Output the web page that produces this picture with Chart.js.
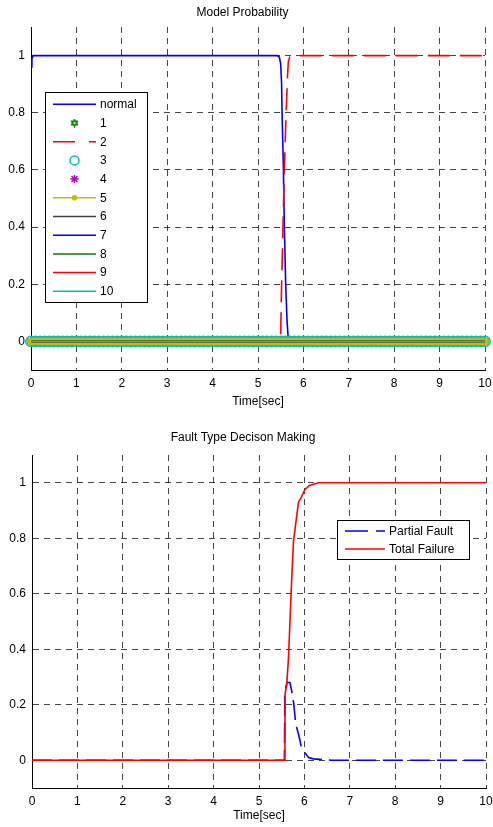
<!DOCTYPE html>
<html>
<head>
<meta charset="utf-8">
<script src="https://cdn.jsdelivr.net/npm/chart.js@4/dist/chart.umd.min.js"></script>
<style>
  html, body { margin: 0; padding: 0; background: #ffffff; }
  body { width: 493px; height: 827px; position: relative; overflow: hidden; }
  canvas { position: absolute; left: 0; }
  #c1 { top: 0; }
  #c2 { top: 410px; }
</style>
</head>
<body>
<canvas id="c1" width="493" height="410"></canvas>
<canvas id="c2" width="493" height="417"></canvas>
<script>
// ---------- DATA ----------
const xTicks = [0, 1, 2, 3, 4, 5, 6, 7, 8, 9, 10];
const yTicks = [0, 0.2, 0.4, 0.6, 0.8, 1];
const yTickLabels = ['0', '0.2', '0.4', '0.6', '0.8', '1'];

const topTitle = 'Model Probability';
const bottomTitle = 'Fault Type Decison Making';
const xTitle = 'Time[sec]';

const modelLabels = ['normal', '1', '2', '3', '4', '5', '6', '7', '8', '9', '10'];

// "normal" model probability
const normalTime = [0, 0.02, 0.05, 5.42, 5.47, 5.5, 5.52, 5.53, 5.56, 5.58, 5.61, 5.64, 5.67, 10];
const normalProb = [0.96, 0.99, 1, 1, 0.995, 0.97, 0.9, 0.8, 0.6, 0.4, 0.2, 0.07, 0, 0];

// model "2" probability
const model2Time = [0, 5.48, 5.5, 5.52, 5.55, 5.58, 5.62, 5.65, 5.67, 5.7, 5.75, 10];
const model2Prob = [0, 0, 0.03, 0.2, 0.4, 0.6, 0.8, 0.93, 0.98, 0.995, 1, 1];

// models 1, 3..10 stay at zero over the whole run (sample times of the markers)
const sampleTimes = [
  0, 0.1, 0.2, 0.3, 0.4, 0.5, 0.6, 0.7, 0.8, 0.9,
  1, 1.1, 1.2, 1.3, 1.4, 1.5, 1.6, 1.7, 1.8, 1.9,
  2, 2.1, 2.2, 2.3, 2.4, 2.5, 2.6, 2.7, 2.8, 2.9,
  3, 3.1, 3.2, 3.3, 3.4, 3.5, 3.6, 3.7, 3.8, 3.9,
  4, 4.1, 4.2, 4.3, 4.4, 4.5, 4.6, 4.7, 4.8, 4.9,
  5, 5.1, 5.2, 5.3, 5.4, 5.5, 5.6, 5.7, 5.8, 5.9,
  6, 6.1, 6.2, 6.3, 6.4, 6.5, 6.6, 6.7, 6.8, 6.9,
  7, 7.1, 7.2, 7.3, 7.4, 7.5, 7.6, 7.7, 7.8, 7.9,
  8, 8.1, 8.2, 8.3, 8.4, 8.5, 8.6, 8.7, 8.8, 8.9,
  9, 9.1, 9.2, 9.3, 9.4, 9.5, 9.6, 9.7, 9.8, 9.9,
  10
];
const otherModelsProb = 0;

// fault type decision
const faultLabels = ['Partial Fault', 'Total Failure'];
const partialTime = [0, 5.56, 5.57, 5.6, 5.62, 5.68, 5.72, 5.76, 5.81, 5.86, 5.89, 5.93, 6.0, 6.09, 6.2, 6.34, 6.6, 10];
const partialValues = [0, 0, 0.24, 0.27, 0.28, 0.28, 0.25, 0.21, 0.13, 0.1, 0.08, 0.05, 0.03, 0.01, 0.005, 0.003, 0, 0];
const totalTime = [0, 5.57, 5.575, 5.61, 5.65, 5.68, 5.72, 5.76, 5.83, 5.87, 5.94, 6.01, 6.11, 6.31, 10];
const totalValues = [0, 0, 0.24, 0.27, 0.37, 0.49, 0.65, 0.79, 0.88, 0.93, 0.95, 0.975, 0.99, 1, 1];

// ---------- HELPERS ----------
const FONT = "'Liberation Sans', Arial, Helvetica, sans-serif";
const pts = (xs, ys) => xs.map((x, i) => ({ x: x, y: ys[i] }));
const flat = (xs, v) => xs.map(x => ({ x: x, y: v }));

// green hexagram marker
function makeHexagram(color, size) {
  const c = document.createElement('canvas');
  c.width = size; c.height = size;
  const g = c.getContext('2d');
  const cx = size / 2, cy = size / 2, r = size / 2 - 1;
  g.strokeStyle = color; g.lineWidth = 1.3;
  for (let k = 0; k < 2; k++) {
    g.beginPath();
    for (let j = 0; j < 3; j++) {
      const a = -Math.PI / 2 + k * Math.PI + j * 2 * Math.PI / 3;
      const px = cx + r * Math.cos(a), py = cy + r * Math.sin(a);
      if (j === 0) g.moveTo(px, py); else g.lineTo(px, py);
    }
    g.closePath(); g.stroke();
  }
  return c;
}
const hexagram = makeHexagram('#008000', 9);

function drawMarker(ctx, style, radius, x, y, borderWidth) {
  if (Chart.helpers && Chart.helpers.drawPoint) {
    Chart.helpers.drawPoint(ctx, { pointStyle: style, radius: radius, rotation: 0, borderWidth: borderWidth }, x, y);
  } else {
    ctx.beginPath(); ctx.arc(x, y, radius, 0, Math.PI * 2); ctx.fill(); ctx.stroke();
  }
}

const boxLegend = {
  id: 'boxLegend',
  afterDatasetsDraw(chart, args, opts) {
    const ctx = chart.ctx;
    ctx.save();
    ctx.fillStyle = '#ffffff';
    ctx.fillRect(opts.x, opts.y, opts.w, opts.h);
    ctx.strokeStyle = '#000000';
    ctx.lineWidth = 1;
    ctx.setLineDash([]);
    ctx.strokeRect(opts.x + 0.5, opts.y + 0.5, opts.w, opts.h);
    ctx.font = '12px ' + FONT;
    ctx.textBaseline = 'middle';
    ctx.textAlign = 'left';
    chart.data.datasets.forEach((ds, i) => {
      const y = opts.row0 + i * opts.rowStep;
      if (ds.showLine !== false) {
        ctx.save();
        ctx.strokeStyle = ds.borderColor;
        ctx.lineWidth = ds.legendWidth || ds.borderWidth || 1.5;
        ctx.setLineDash(ds.legendDash || []);
        ctx.beginPath();
        ctx.moveTo(opts.lineX0, y);
        ctx.lineTo(opts.lineX1, y);
        ctx.stroke();
        ctx.restore();
      }
      if (ds.pointRadius && ds.pointRadius > 0) {
        ctx.save();
        ctx.setLineDash([]);
        ctx.strokeStyle = ds.pointBorderColor || ds.borderColor;
        ctx.fillStyle = ds.pointBackgroundColor || 'rgba(0,0,0,0)';
        ctx.lineWidth = ds.pointBorderWidth || 1;
        const r = ds.legendRadius || ds.pointRadius;
        drawMarker(ctx, ds.pointStyle || 'circle', r, (opts.lineX0 + opts.lineX1) / 2, y, ds.pointBorderWidth || 1);
        ctx.restore();
      }
      ctx.fillStyle = '#000000';
      ctx.fillText(ds.label, opts.textX, y + 0.5);
    });
    ctx.restore();
  }
};

function makeOptions(titleText, titlePad, chartBottom, canvasH, xTitlePadBottom, legendOpts, yAxisWidth, rightPad) {
  const gridCommon = {
    color: 'rgba(0,0,0,0.72)',
    lineWidth: 1,
    drawTicks: false,
    borderDash: [6, 5]
  };
  return {
    responsive: false,
    animation: false,
    devicePixelRatio: 1,
    layout: { padding: { left: 0, right: rightPad, top: 0, bottom: 0 } },
    plugins: {
      legend: { display: false },
      tooltip: { enabled: false },
      title: {
        display: true,
        text: titleText,
        color: '#000000',
        font: { family: FONT, size: 12, weight: 'normal' },
        padding: titlePad
      },
      boxLegend: legendOpts
    },
    scales: {
      x: {
        type: 'linear',
        min: 0,
        max: 10,
        afterBuildTicks: (s) => { s.ticks = xTicks.map(v => ({ value: v })); },
        afterFit: (s) => { s.height = canvasH - chartBottom; s.paddingLeft = 0; s.paddingRight = 0; },
        ticks: {
          color: '#000000',
          font: { family: FONT, size: 12 },
          padding: 6,
          maxRotation: 0,
          callback: (v) => String(v)
        },
        grid: gridCommon,
        border: { display: true, color: '#000000', width: 1, dash: [6, 5] },
        title: {
          display: true,
          text: xTitle,
          color: '#000000',
          font: { family: FONT, size: 12 },
          padding: { top: 0, bottom: xTitlePadBottom }
        }
      },
      y: {
        type: 'linear',
        min: -0.1,
        max: 1.1,
        afterBuildTicks: (s) => { s.ticks = yTicks.map(v => ({ value: v })); },
        afterFit: (s) => { s.width = yAxisWidth; s.paddingTop = 0; s.paddingBottom = 0; },
        ticks: {
          color: '#000000',
          font: { family: FONT, size: 12 },
          padding: 6,
          callback: (v, i) => yTickLabels[i]
        },
        grid: gridCommon,
        border: { display: true, color: '#000000', width: 1, dash: [6, 5] }
      }
    }
  };
}

// ---------- TOP CHART ----------
const N = modelLabels.length;
const topDatasets = [
  { label: modelLabels[0], data: pts(normalTime, normalProb), borderColor: '#0000ff', borderWidth: 1.6, pointRadius: 0 },
  { label: modelLabels[1], data: flat(sampleTimes, otherModelsProb), showLine: false, borderColor: '#008000',
    pointStyle: hexagram, pointRadius: 4, pointBorderColor: '#008000', pointBackgroundColor: 'rgba(0,0,0,0)', clip: false },
  { label: modelLabels[2], data: pts(model2Time, model2Prob), borderColor: '#ff0000', borderWidth: 1.6, pointRadius: 0,
    borderDash: [22, 10], legendDash: [22, 14] },
  { label: modelLabels[3], data: flat(sampleTimes, otherModelsProb), showLine: false, borderColor: '#00bfbf',
    pointStyle: 'circle', pointRadius: 5.2, legendRadius: 4.5, pointBorderWidth: 1.5, pointBorderColor: '#00bfbf', pointBackgroundColor: 'rgba(0,0,0,0)', clip: false },
  { label: modelLabels[4], data: flat(sampleTimes, otherModelsProb), showLine: false, borderColor: '#bf00bf',
    pointStyle: 'star', pointRadius: 4.2, pointBorderWidth: 1.5, pointBorderColor: '#bf00bf', pointBackgroundColor: '#bf00bf', clip: false },
  { label: modelLabels[5], data: flat(sampleTimes, otherModelsProb), borderColor: '#bfbf00', borderWidth: 3, legendWidth: 1.5,
    pointStyle: 'circle', pointRadius: 2.4, pointBorderColor: '#bfbf00', pointBackgroundColor: '#bfbf00', clip: false },
  { label: modelLabels[6], data: flat(sampleTimes, otherModelsProb), borderColor: '#404040', borderWidth: 1.5, pointRadius: 0, clip: false },
  { label: modelLabels[7], data: flat(sampleTimes, otherModelsProb), borderColor: '#0000ff', borderWidth: 1.5, pointRadius: 0, clip: false },
  { label: modelLabels[8], data: flat(sampleTimes, otherModelsProb), borderColor: '#008000', borderWidth: 1.5, pointRadius: 0, clip: false },
  { label: modelLabels[9], data: flat(sampleTimes, otherModelsProb), borderColor: '#ff0000', borderWidth: 1.5, pointRadius: 0, clip: false },
  { label: modelLabels[10], data: flat(sampleTimes, otherModelsProb), borderColor: '#00bfbf', borderWidth: 1.5, pointRadius: 0, clip: false }
];
topDatasets.forEach((d, i) => { d.order = N - i; d.tension = 0; d.fill = false; });

new Chart(document.getElementById('c1'), {
  type: 'line',
  data: { datasets: topDatasets },
  options: makeOptions(topTitle, { top: 5, bottom: 7.6 }, 370, 410, 1, {
    x: 45, y: 92, w: 102, h: 210,
    row0: 104.3, rowStep: 18.7,
    lineX0: 53, lineX1: 96, textX: 100
  }, 31, 8),
  plugins: [boxLegend]
});

// ---------- BOTTOM CHART ----------
const bottomDatasets = [
  { label: faultLabels[0], data: pts(partialTime, partialValues), borderColor: '#0000ff', borderWidth: 1.6, pointRadius: 0,
    borderDash: [20, 7], legendDash: [23, 8], order: 2, tension: 0, fill: false },
  { label: faultLabels[1], data: pts(totalTime, totalValues), borderColor: '#ff0000', borderWidth: 1.6, pointRadius: 0,
    order: 1, tension: 0, fill: false }
];

new Chart(document.getElementById('c2'), {
  type: 'line',
  data: { datasets: bottomDatasets },
  options: makeOptions(bottomTitle, { top: 20, bottom: 10.6 }, 378, 417, 4, {
    x: 337, y: 110, w: 132, h: 39,
    row0: 121, rowStep: 18,
    lineX0: 345, lineX1: 385, textX: 389
  }, 32, 7),
  plugins: [boxLegend]
});
</script>
</body>
</html>
